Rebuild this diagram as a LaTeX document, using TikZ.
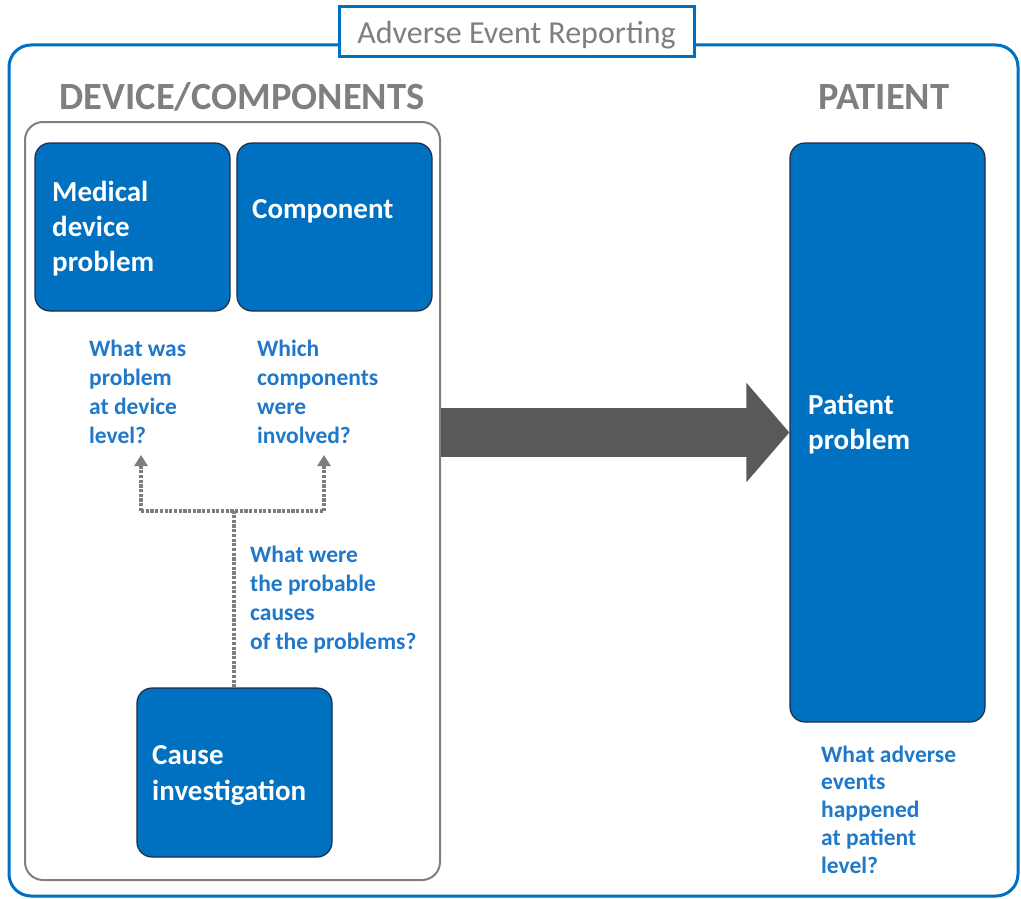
\documentclass[tikz,border=0pt]{standalone}
\usepackage{fontspec}
\setmainfont{Carlito}
\usetikzlibrary{arrows.meta}
\definecolor{mblue}{HTML}{0070C0}
\definecolor{qblue}{HTML}{1F78C8}
\definecolor{hgray}{HTML}{7F7F7F}
\definecolor{dgray}{HTML}{595959}
\definecolor{lgray}{HTML}{7D7D7D}
\definecolor{bedge}{HTML}{1E2D45}
\tikzset{
  bluebox/.style={draw=bedge, line width=1.2pt, fill=mblue, rounded corners=15pt, inner sep=0pt, minimum width=195pt},
  boxtxt/.style={anchor=base west, inner sep=0pt, text=white, font=\fontsize{29}{35}\selectfont\bfseries},
  qtxt/.style={anchor=base west, inner sep=0pt, text=qblue, font=\fontsize{23.5}{29}\selectfont\bfseries},
  hdr/.style={anchor=base, inner sep=0pt, text=hgray, font=\fontsize{38.5}{42}\selectfont\bfseries},
  dotline/.style={draw=lgray, line width=4.5pt, dash pattern=on 3.2pt off 1.5pt},
  dottip/.style={-{Triangle[width=13pt,length=11pt]}},
  bigarrow/.style={draw=dgray, line width=49pt, -{Triangle[width=97pt,length=43pt]}}
}
\begin{document}
\begin{tikzpicture}[x=1pt,y=-1pt]
\useasboundingbox (0,0) rectangle (1021,899);
% outer frame
\node[draw=mblue, line width=3pt, rounded corners=22pt, minimum width=1009pt, minimum height=851pt, inner sep=0pt] (outer) at (513.5,470.5) {};
\node[draw=mblue, line width=3pt, fill=white, minimum width=355pt, minimum height=50pt, inner sep=0pt, text depth=0pt, text=hgray, font=\fontsize{32}{34}\selectfont] (title) at (516.5,32) {Adverse Event Reporting};
% headers
\node[hdr] (hdev) at (242,110) {DEVICE/COMPONENTS};
\node[hdr] (hpat) at (884,110) {PATIENT};
% inner gray frame
\node[draw=hgray, line width=2pt, rounded corners=18pt, minimum width=415pt, minimum height=758pt, inner sep=0pt] (devframe) at (232.5,501) {};
% boxes
\node[bluebox, minimum height=168pt] (md) at (132.5,227) {};
\node[bluebox, minimum height=168pt] (comp) at (334.5,227) {};
\node[bluebox, minimum height=169pt] (cause) at (234.5,772.5) {};
\node[bluebox, minimum height=579pt] (pat) at (887.5,432.5) {};
% box texts
\node[boxtxt] (t1) at (52,201) {Medical};
\node[boxtxt] (t2) at (52,236) {device};
\node[boxtxt] (t3) at (52,271) {problem};
\node[boxtxt] (t4) at (252,218) {Component};
\node[boxtxt] (t5) at (152,764) {Cause};
\node[boxtxt] (t6) at (152,800) {investigation};
\node[boxtxt] (t7) at (808,414) {Patient};
\node[boxtxt] (t8) at (808,449) {problem};
% questions
\node[qtxt] (q1a) at (89,356) {What was};
\node[qtxt] (q1b) at (89,385) {problem};
\node[qtxt] (q1c) at (89,414) {at device};
\node[qtxt] (q1d) at (89,443) {level?};
\node[qtxt] (q2a) at (257,356) {Which};
\node[qtxt] (q2b) at (257,385) {components};
\node[qtxt] (q2c) at (257,414) {were};
\node[qtxt] (q2d) at (257,443) {involved?};
\node[qtxt] (q3a) at (250,562) {What were};
\node[qtxt] (q3b) at (250,591) {the probable};
\node[qtxt] (q3c) at (250,620) {causes};
\node[qtxt] (q3d) at (250,649) {of the problems?};
\node[qtxt] (q4a) at (821,762) {What adverse};
\node[qtxt] (q4b) at (821,789) {events};
\node[qtxt] (q4c) at (821,817) {happened};
\node[qtxt] (q4d) at (821,845) {at patient};
\node[qtxt] (q4e) at (821,873) {level?};
% dotted connectors
\coordinate (junc) at (234,511);
\coordinate (jl) at (141,511);
\coordinate (jr) at (324,511);
\coordinate (al) at (141,455);
\coordinate (ar) at (324,455);
\draw[dotline] (cause.north -| junc) -- (junc);
\draw[dotline] (jl) -- (jr);
\draw[dotline, dottip] (jl) -- (al);
\draw[dotline, dottip] (jr) -- (ar);
% big arrow
\draw[bigarrow] (devframe.east |- pat.west) -- (pat.west);
\end{tikzpicture}
\end{document}
